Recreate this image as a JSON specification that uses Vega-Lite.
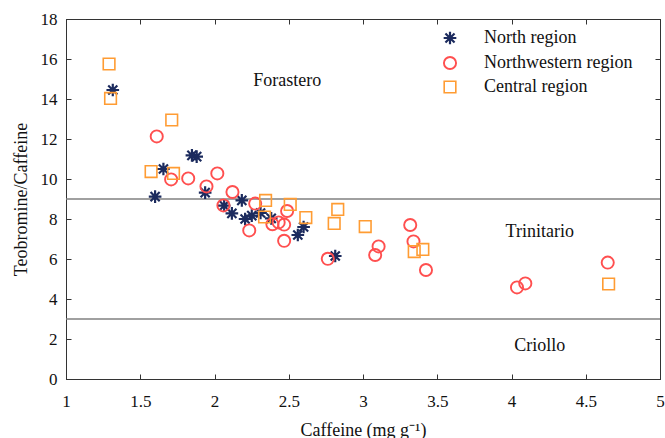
{
  "$schema": "https://vega.github.io/schema/vega-lite/v6.json",
  "width": 594,
  "height": 360,
  "autosize": "none",
  "padding": {"left": 66, "top": 19, "right": 5, "bottom": 59},
  "background": "white",
  "config": {
    "font": "Liberation Serif",
    "view": {"stroke": "#333333", "strokeWidth": 1},
    "axis": {
      "grid": false,
      "domainColor": "#333333",
      "tickColor": "#333333",
      "tickSize": -5,
      "labelColor": "#111111",
      "labelFontSize": 17,
      "titleFontSize": 18,
      "titleFontWeight": "normal",
      "titleColor": "#111111",
      "labelFont": "Liberation Serif",
      "titleFont": "Liberation Serif"
    }
  },
  "datasets": {
    "points": [
      {"region": "North region", "caffeine": 1.315, "ratio": 14.45},
      {"region": "North region", "caffeine": 1.848, "ratio": 11.18},
      {"region": "North region", "caffeine": 1.88, "ratio": 11.12},
      {"region": "North region", "caffeine": 1.656, "ratio": 10.5},
      {"region": "North region", "caffeine": 1.937, "ratio": 9.32},
      {"region": "North region", "caffeine": 1.6, "ratio": 9.12},
      {"region": "North region", "caffeine": 2.184, "ratio": 8.93},
      {"region": "North region", "caffeine": 2.065, "ratio": 8.67},
      {"region": "North region", "caffeine": 2.117, "ratio": 8.28},
      {"region": "North region", "caffeine": 2.206, "ratio": 8.0},
      {"region": "North region", "caffeine": 2.251, "ratio": 8.17},
      {"region": "North region", "caffeine": 2.31, "ratio": 8.3},
      {"region": "North region", "caffeine": 2.382, "ratio": 8.03},
      {"region": "North region", "caffeine": 2.6, "ratio": 7.6},
      {"region": "North region", "caffeine": 2.561, "ratio": 7.2},
      {"region": "North region", "caffeine": 2.813, "ratio": 6.15},
      {"region": "Northwestern region", "caffeine": 1.611, "ratio": 12.13},
      {"region": "Northwestern region", "caffeine": 1.708, "ratio": 9.98},
      {"region": "Northwestern region", "caffeine": 1.823, "ratio": 10.03},
      {"region": "Northwestern region", "caffeine": 2.019, "ratio": 10.28},
      {"region": "Northwestern region", "caffeine": 1.946, "ratio": 9.63},
      {"region": "Northwestern region", "caffeine": 2.121, "ratio": 9.35},
      {"region": "Northwestern region", "caffeine": 2.06, "ratio": 8.68},
      {"region": "Northwestern region", "caffeine": 2.274, "ratio": 8.77},
      {"region": "Northwestern region", "caffeine": 2.234, "ratio": 7.43},
      {"region": "Northwestern region", "caffeine": 2.39, "ratio": 7.74},
      {"region": "Northwestern region", "caffeine": 2.432, "ratio": 7.83},
      {"region": "Northwestern region", "caffeine": 2.469, "ratio": 7.72},
      {"region": "Northwestern region", "caffeine": 2.489, "ratio": 8.4},
      {"region": "Northwestern region", "caffeine": 2.469, "ratio": 6.91},
      {"region": "Northwestern region", "caffeine": 2.763, "ratio": 6.01},
      {"region": "Northwestern region", "caffeine": 3.318, "ratio": 7.7},
      {"region": "Northwestern region", "caffeine": 3.34, "ratio": 6.88},
      {"region": "Northwestern region", "caffeine": 3.105, "ratio": 6.63},
      {"region": "Northwestern region", "caffeine": 3.082, "ratio": 6.2},
      {"region": "Northwestern region", "caffeine": 3.424, "ratio": 5.45},
      {"region": "Northwestern region", "caffeine": 4.037, "ratio": 4.58},
      {"region": "Northwestern region", "caffeine": 4.093, "ratio": 4.78},
      {"region": "Northwestern region", "caffeine": 4.648, "ratio": 5.82},
      {"region": "Central region", "caffeine": 1.29, "ratio": 15.75},
      {"region": "Central region", "caffeine": 1.3, "ratio": 14.03},
      {"region": "Central region", "caffeine": 1.712, "ratio": 12.95},
      {"region": "Central region", "caffeine": 1.573, "ratio": 10.37},
      {"region": "Central region", "caffeine": 1.724, "ratio": 10.28},
      {"region": "Central region", "caffeine": 2.344, "ratio": 8.93},
      {"region": "Central region", "caffeine": 2.51, "ratio": 8.73},
      {"region": "Central region", "caffeine": 2.337, "ratio": 8.1},
      {"region": "Central region", "caffeine": 2.615, "ratio": 8.07},
      {"region": "Central region", "caffeine": 2.83, "ratio": 8.48},
      {"region": "Central region", "caffeine": 2.806, "ratio": 7.78},
      {"region": "Central region", "caffeine": 3.015, "ratio": 7.62},
      {"region": "Central region", "caffeine": 3.345, "ratio": 6.37},
      {"region": "Central region", "caffeine": 3.403, "ratio": 6.48},
      {"region": "Central region", "caffeine": 4.654, "ratio": 4.75}
    ],
    "thresholds": [{"ratio": 9}, {"ratio": 3}],
    "labels": [
      {"label": "Forastero", "caffeine": 2.49, "ratio": 14.9},
      {"label": "Trinitario", "caffeine": 4.19, "ratio": 7.37},
      {"label": "Criollo", "caffeine": 4.19, "ratio": 1.65}
    ]
  },
  "resolve": {"axis": {"x": "independent", "y": "independent"}},
  "layer": [
    {
      "data": {"name": "thresholds"},
      "mark": {"type": "rule", "color": "#808080", "strokeWidth": 1.5},
      "encoding": {
        "y": {"field": "ratio", "type": "quantitative", "scale": {"domain": [0, 18]}, "axis": null}
      }
    },
    {
      "data": {"name": "labels"},
      "mark": {"type": "text", "font": "Liberation Serif", "fontSize": 18, "color": "#111111", "align": "center", "baseline": "middle"},
      "encoding": {
        "x": {"field": "caffeine", "type": "quantitative", "scale": {"domain": [1, 5], "nice": false},
              "axis": {"orient": "top", "labels": false, "title": null, "values": [1, 1.5, 2, 2.5, 3, 3.5, 4, 4.5, 5]}},
        "y": {"field": "ratio", "type": "quantitative", "scale": {"domain": [0, 18], "nice": false},
              "axis": {"orient": "right", "labels": false, "title": null, "values": [0, 2, 4, 6, 8, 10, 12, 14, 16, 18]}},
        "text": {"field": "label", "type": "nominal"}
      }
    },
    {
      "data": {"name": "points"},
      "mark": {"type": "point", "filled": false, "strokeWidth": 1.6, "opacity": 1},
      "encoding": {
        "x": {"field": "caffeine", "type": "quantitative", "scale": {"domain": [1, 5], "nice": false},
              "axis": {"orient": "bottom", "title": "Caffeine (mg g⁻¹)", "format": "~g", "values": [1, 1.5, 2, 2.5, 3, 3.5, 4, 4.5, 5], "labelPadding": 19, "titlePadding": 12, "labelFlush": false}},
        "y": {"field": "ratio", "type": "quantitative", "scale": {"domain": [0, 18], "nice": false},
              "axis": {"orient": "left", "title": "Teobromine/Caffeine", "format": "~g", "values": [0, 2, 4, 6, 8, 10, 12, 14, 16, 18], "labelPadding": 14, "titlePadding": 10}},
        "color": {"field": "region", "type": "nominal",
                  "scale": {"domain": ["North region", "Northwestern region", "Central region"], "range": ["#1c2b5e", "#ff4f4f", "#ff9c33"]},
                  "legend": {"title": null, "orient": "none", "legendX": 375, "legendY": 10, "labelFontSize": 18, "labelFont": "Liberation Serif", "labelColor": "#111111", "symbolSize": 130, "symbolStrokeWidth": 1.6, "labelOffset": 25, "rowPadding": 4, "padding": 0}},
        "shape": {"field": "region", "type": "nominal",
                  "scale": {"domain": ["North region", "Northwestern region", "Central region"], "range": ["M-1,0H1M0,-1V1M-0.72,-0.72L0.72,0.72M-0.72,0.72L0.72,-0.72", "circle", "square"]}},
        "size": {"field": "region", "type": "nominal", "legend": null,
                 "scale": {"domain": ["North region", "Northwestern region", "Central region"], "range": [160, 135, 100]}},
        "strokeWidth": {"field": "region", "type": "nominal", "legend": null,
                 "scale": {"domain": ["North region", "Northwestern region", "Central region"], "range": [2.2, 1.6, 1.6]}}
      }
    }
  ]
}
